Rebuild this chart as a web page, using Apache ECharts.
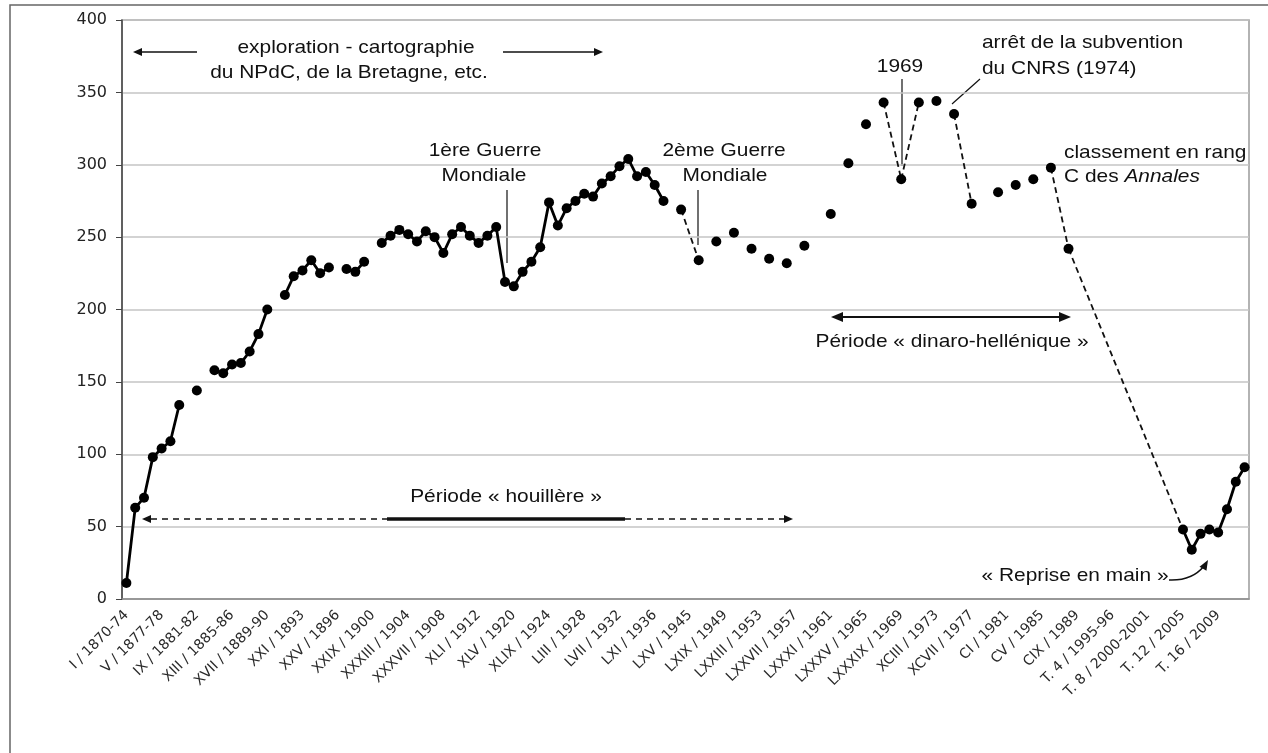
<!DOCTYPE html>
<html>
<head>
<meta charset="utf-8">
<title>Annales - nombre de pages par tome</title>
<script src="https://cdn.jsdelivr.net/npm/echarts@6/dist/echarts.min.js"></script>
<style>
  html, body { margin: 0; padding: 0; background: #fff; }
  #main { width: 1268px; height: 753px; }
</style>
</head>
<body>
<div id="main"></div>
<script>
// volumes (tomes), one per category
const volumes = [
  'I', 'II', 'III', 'IV', 'V', 'VI', 'VII', 'VIII', 'IX', 'X',
  'XI', 'XII', 'XIII', 'XIV', 'XV', 'XVI', 'XVII', 'XVIII', 'XIX', 'XX',
  'XXI', 'XXII', 'XXIII', 'XXIV', 'XXV', 'XXVI', 'XXVII', 'XXVIII', 'XXIX', 'XXX',
  'XXXI', 'XXXII', 'XXXIII', 'XXXIV', 'XXXV', 'XXXVI', 'XXXVII', 'XXXVIII', 'XXXIX', 'XL',
  'XLI', 'XLII', 'XLIII', 'XLIV', 'XLV', 'XLVI', 'XLVII', 'XLVIII', 'XLIX', 'L',
  'LI', 'LII', 'LIII', 'LIV', 'LV', 'LVI', 'LVII', 'LVIII', 'LIX', 'LX',
  'LXI', 'LXII', 'LXIII', 'LXIV', 'LXV', 'LXVI', 'LXVII', 'LXVIII', 'LXIX', 'LXX',
  'LXXI', 'LXXII', 'LXXIII', 'LXXIV', 'LXXV', 'LXXVI', 'LXXVII', 'LXXVIII', 'LXXIX', 'LXXX',
  'LXXXI', 'LXXXII', 'LXXXIII', 'LXXXIV', 'LXXXV', 'LXXXVI', 'LXXXVII', 'LXXXVIII', 'LXXXIX', 'XC',
  'XCI', 'XCII', 'XCIII', 'XCIV', 'XCV', 'XCVI', 'XCVII', 'XCVIII', 'XCIX', 'C',
  'CI', 'CII', 'CIII', 'CIV', 'CV', 'CVI', 'CVII', 'CVIII', 'CIX',
  'T. 1', 'T. 2', 'T. 3', 'T. 4', 'T. 5', 'T. 6', 'T. 7', 'T. 8', 'T. 9', 'T. 10',
  'T. 11', 'T. 12', 'T. 13', 'T. 14', 'T. 15', 'T. 16', 'T. 17', 'T. 18', 'T. 19'
];

// labels shown every 4th volume
const tickLabels = [
  'I / 1870-74', 'V / 1877-78', 'IX / 1881-82', 'XIII / 1885-86', 'XVII / 1889-90',
  'XXI / 1893', 'XXV / 1896', 'XXIX / 1900', 'XXXIII / 1904', 'XXXVII / 1908',
  'XLI / 1912', 'XLV / 1920', 'XLIX / 1924', 'LIII / 1928', 'LVII / 1932',
  'LXI / 1936', 'LXV / 1945', 'LXIX / 1949', 'LXXIII / 1953', 'LXXVII / 1957',
  'LXXXI / 1961', 'LXXXV / 1965', 'LXXXIX / 1969', 'XCIII / 1973', 'XCVII / 1977',
  'CI / 1981', 'CV / 1985', 'CIX / 1989', 'T. 4 / 1995-96', 'T. 8 / 2000-2001',
  'T. 12 / 2005', 'T. 16 / 2009'
];

// pages per volume (null = no value)
const pages = [
  11, 63, 70, 98, 104, 109, 134, null, 144, null,
  158, 156, 162, 163, 171, 183, 200, null, 210, 223,
  227, 234, 225, 229, null, 228, 226, 233, null, 246,
  251, 255, 252, 247, 254, 250, 239, 252, 257, 251,
  246, 251, 257, 219, 216, 226, 233, 243, 274, 258,
  270, 275, 280, 278, 287, 292, 299, 304, 292, 295,
  286, 275, null, 269, null, 234, null, 247, null, 253,
  null, 242, null, 235, null, 232, null, 244, null, null,
  266, null, 301, null, 328, null, 343, null, 290, null,
  343, null, 344, null, 335, null, 273, null, null, 281,
  null, 286, null, 290, null, 298, null, 242, null, null,
  null, null, null, null, null, null, null, null, null, null,
  48, 34, 45, 48, 46, 62, 81, 91
];

// pairs of volumes joined by a dashed line
const dashedLinks = [[63, 65], [86, 88], [88, 90], [94, 96], [105, 107], [107, 120]];

const ink = '#111';
const annFont = '"Liberation Sans", Arial, Helvetica, sans-serif';

const txt = (x, y, text, align) => ({
  type: 'text', x, y, scaleX: 1.1,
  style: {
    text, fill: ink, font: '19px ' + annFont,
    align: align || 'center', textAlign: align || 'center',
    verticalAlign: 'middle', textVerticalAlign: 'middle'
  }
});
const seg = (points, width, dash) => ({
  type: 'polyline', shape: { points },
  style: { stroke: ink, lineWidth: width, lineDash: dash || null, fill: null }
});
const head = (tx, ty, ang, len, half) => {
  const bx = tx - len * Math.cos(ang), by = ty - len * Math.sin(ang);
  const nx = -Math.sin(ang) * half, ny = Math.cos(ang) * half;
  return {
    type: 'polygon',
    shape: { points: [[tx, ty], [bx + nx, by + ny], [bx - nx, by - ny]] },
    style: { fill: ink }
  };
};

const dashedSeries = dashedLinks.map(([a, b]) => ({
  type: 'line',
  data: pages.map((v, i) => (i === a || i === b ? v : null)),
  connectNulls: true,
  symbol: 'none',
  silent: true,
  lineStyle: { color: ink, width: 1.8, type: [6, 4] },
  z: 2
}));

const chart = echarts.init(document.getElementById('main'));
chart.setOption({
  animation: false,
  backgroundColor: '#fff',
  grid: { left: 122, right: 19, top: 20, bottom: 154, show: true, borderColor: '#9a9a9a', borderWidth: 1.5 },
  xAxis: {
    type: 'category',
    data: volumes,
    boundaryGap: true,
    axisLine: { lineStyle: { color: '#8a8a8a', width: 1.5 } },
    axisTick: { interval: 0, length: 5, lineStyle: { color: '#8a8a8a' } },
    axisLabel: {
      interval: 3, rotate: 45, margin: 14,
      fontFamily: '"DejaVu Sans", Verdana, sans-serif', fontSize: 14, color: '#2a2a2a',
      formatter: (val, idx) => tickLabels[idx / 4] || val
    }
  },
  yAxis: {
    type: 'value', min: 0, max: 400, interval: 50,
    axisLine: { show: true, lineStyle: { color: '#444', width: 1.5 } },
    axisTick: { show: true, length: 6, lineStyle: { color: '#444' } },
    axisLabel: { fontFamily: '"DejaVu Sans", Verdana, sans-serif', fontSize: 16, color: '#222', margin: 15 },
    splitLine: { lineStyle: { color: '#c4c4c4', width: 1.5 } }
  },
  series: [{
    type: 'line',
    data: pages,
    connectNulls: false,
    symbol: 'circle',
    symbolSize: 10,
    showAllSymbol: true,
    itemStyle: { color: '#000' },
    lineStyle: { color: '#000', width: 2.8 },
    z: 3
  }].concat(dashedSeries),
  graphic: [
    // outer frame
    { type: 'rect', shape: { x: 10, y: 5, width: 1300, height: 800 }, style: { stroke: '#666', lineWidth: 1.5, fill: null } },

    // exploration - cartographie
    txt(356, 48, 'exploration - cartographie'),
    txt(349, 73, 'du NPdC, de la Bretagne, etc.'),
    seg([[197, 52], [140, 52]], 1.5), head(133, 52, Math.PI, 9, 4),
    seg([[503, 52], [596, 52]], 1.5), head(603, 52, 0, 9, 4),

    // guerres
    txt(485, 151, '1ère Guerre'), txt(484, 176, 'Mondiale'),
    seg([[507, 190], [507, 263]], 1.2),
    txt(724, 151, '2ème Guerre'), txt(725, 176, 'Mondiale'),
    seg([[698, 190], [698, 245]], 1.2),

    // 1969, CNRS
    txt(900, 67, '1969'),
    seg([[902, 79], [902, 166]], 1.2),
    txt(982, 43, 'arrêt de la subvention', 'left'),
    txt(982, 69, 'du CNRS (1974)', 'left'),
    seg([[980, 79], [952, 104]], 1.2),

    // classement
    {
      type: 'text', x: 1064, y: 177, scaleX: 1.1,
      style: {
        text: '{n|C des }{i|Annales}', fill: ink,
        align: 'left', textAlign: 'left', verticalAlign: 'middle', textVerticalAlign: 'middle',
        rich: {
          n: { fontFamily: annFont, fontSize: 19, color: ink, fill: ink },
          i: { fontFamily: annFont, fontSize: 19, fontStyle: 'italic', color: ink, fill: ink }
        }
      }
    },
    txt(1064, 153, 'classement en rang', 'left'),

    // période dinaro-hellénique
    seg([[842, 317], [1060, 317]], 2), head(831, 317, Math.PI, 12, 5), head(1071, 317, 0, 12, 5),
    txt(952, 342, 'Période « dinaro-hellénique »'),

    // période houillère
    txt(506, 497, 'Période « houillère »'),
    seg([[151, 519], [387, 519]], 1.5, [6, 5]), head(142, 519, Math.PI, 9, 4),
    seg([[387, 519], [625, 519]], 3.5),
    seg([[625, 519], [785, 519]], 1.5, [6, 5]), head(793, 519, 0, 9, 4),

    // reprise en main
    txt(1075, 576, '« Reprise en main »'),
    { type: 'bezierCurve', shape: { x1: 1169, y1: 580, cpx1: 1192, cpy1: 581, x2: 1204, y2: 566 }, style: { stroke: ink, lineWidth: 1.5, fill: null } },
    head(1208, 560, -Math.PI / 3, 10, 4)
  ]
});
</script>
</body>
</html>
